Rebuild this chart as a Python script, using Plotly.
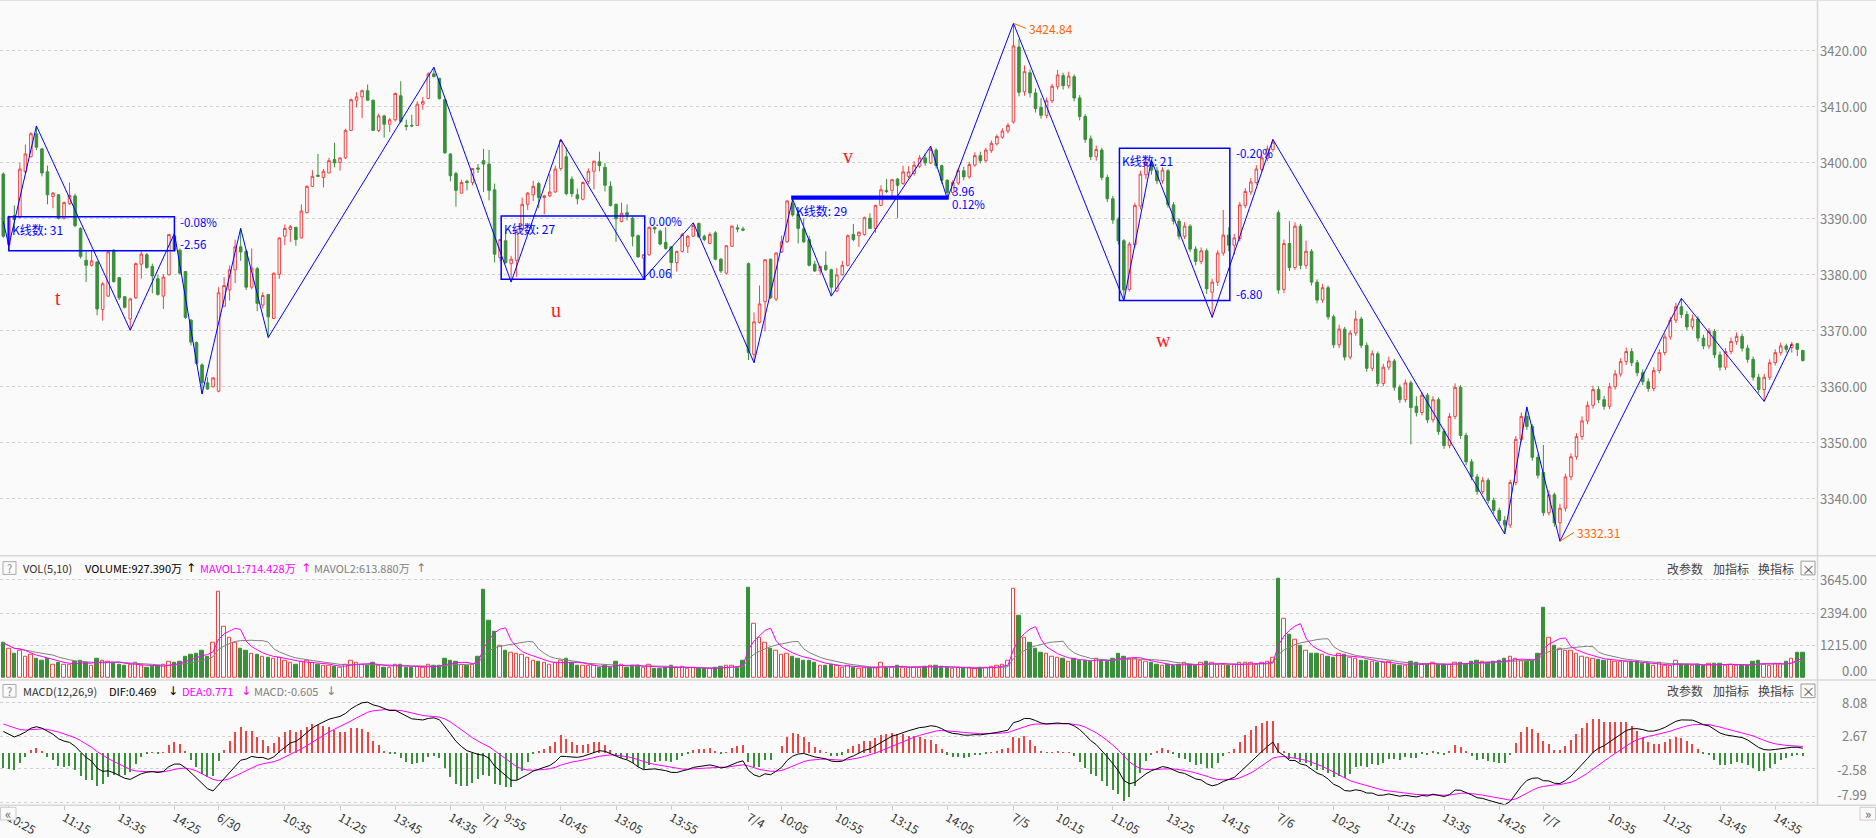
import plotly.graph_objects as go

W, H = 1876, 838
BG = "#fafafa"
RED = "#ee4444"
GREEN = "#3a903a"
BLUE = "#0000ff"

# ---------------- data: 5-minute OHLC, 6/29 10:20 .. 7/7 15:00 ----------------
opens_a = [3397.9,3385.3,3390.5,3390.3,3398.3,3401.0,3405.1,3402.4,3398.3,3393.9,3394.2,3390.0,3392.6,3394.0,3388.2,3382.5,3381.6,3382.2,3373.7,3376.1,
 3384.3,3379.4,3376.0,3372.0,3375.8,3381.8,3383.5,3381.4,3379.2,3376.1,3379.9,3386.8,3384.3,3380.5,3371.8,3367.8,3363.8,3360.6,3359.9,3359.1,
 3374.3,3377.2,3380.8,3384.9,3384.1,3377.7,3381.0,3374.5,3376.4,3372.1,3380.0,3386.8,3388.0,3388.4,3386.5,3391.0,3395.7,3397.7,3397.3,3398.1,
 3400.5,3400.0,3400.8,3405.7,3411.1,3411.7,3412.8,3411.1,3405.7,3408.3,3406.8,3407.6,3411.9,3406.6,3406.6,3406.6,3410.4,3411.4,3415.8,3415.0,
 3411.2,3401.5,3398.0,3394.5,3396.6,3396.4,3399.0,3400.3,3399.7,3395.1,3383.0,3386.0,3381.9,3382.5,3388.0,3392.5,3394.2,3396.2,3393.7,3394.0,
 3394.7,3398.9,3401.0,3397.0,3394.2,3393.4,3396.6,3398.4,3400.1,3399.1,3395.7,3392.5,3389.4,3391.0,3390.0,3386.9,3382.9,3383.5,3388.4,3387.7,
 3385.7,3384.9,3382.1,3384.1,3385.0,3386.8,3389.1,3386.8,3385.5,3387.4,3382.7,3380.2,3385.0,3388.3,3388.1,3381.9,3365.7,3371.4,3375.1,3382.7,
 3375.6,3384.0,3385.8,3392.6,3390.7,3388.1,3386.2,3381.8,3380.6,3381.6,3380.8,3377.0,3379.9,3381.6,3387.1,3386.9,3387.1,3390.0,3388.2,3392.3,
 3395.0,3395.0,3397.0,3396.2,3397.5]
opens_b = [3398.0,3399.3,3400.8,3399.9,3402.2,3399.4,3396.8,3394.6,3396.3,3398.5,3397.4,3399.5,3401.2,3400.3,3402.1,3403.3,3404.5,3405.6,
 3407.2,3420.6,3412.6,3416.0,3412.4,3409.8,3408.4,3411.0,3413.5,3415.5,3413.7,3415.3,3411.5,3408.2,3404.2,3401.0,3402.2,3397.3,3393.5,3389.8,
 3386.0,3377.3,3385.3,3392.2,3397.8,3399.9,3398.5,3396.7,3398.5,3392.4,3389.5,3386.8,3388.6,3384.5,3382.3,3384.2,3376.8,3378.6,3383.8,3387.0,
 3385.2,3386.4,3392.3,3394.7,3396.4,3398.7,3400.7,3402.3,
 3391.0,3377.3,3385.5,3381.2,3388.6,3381.6,3384.1,3378.6,3375.4,3377.6,3372.4,3367.4,3370.2,3365.2,3369.5,3372.0,3367.3,3363.2,3365.8,3360.5,
 3363.4,3364.5,3359.8,3357.6,3360.6,3356.4,3355.3,3358.4,3354.0,3357.6,3351.9,3349.4,3354.6,3359.8,3351.2,3346.5,3343.8,3341.2,3343.2,3339.6,
 3337.8,3336.0,3335.2,3342.8,3350.5,3354.6,3352.8,3347.3,
 3344.6,3337.4,3340.6,3335.6,3338.2,3343.8,3347.4,3351.0,3353.8,3356.6,3359.4,3357.6,3356.4,3359.9,3362.2,3364.4,3366.2,3364.2,3362.4,3360.8,
 3359.6,3362.8,3366.0,3368.8,3371.8,3374.2,3372.8,3370.6,3372.0,3368.6,3367.2,3369.8,3365.6,3363.4,3366.2,3368.0,3368.9,3366.8,3364.8,3361.6,
 3359.4,3361.6,3364.2,3366.0,3367.2,3366.9,3367.6,3366.4]
highs_a = [3398.2,3390.5,3392.3,3399.9,3403.2,3405.4,3406.5,3402.6,3399.4,3394.7,3394.3,3393.0,3396.4,3394.4,3388.4,3384.1,3384.3,3382.3,3378.6,3384.2,
 3384.5,3379.4,3376.0,3375.8,3382.1,3384.1,3383.8,3381.9,3379.9,3380.0,3387.2,3387.4,3384.6,3380.5,3372.0,3368.0,3364.1,3361.6,3361.6,3377.7,
 3379.5,3381.6,3386.2,3388.2,3384.4,3384.6,3381.3,3376.8,3376.4,3380.3,3386.6,3388.9,3388.8,3388.4,3392.5,3395.9,3398.6,3401.5,3398.8,3400.8,
 3403.5,3400.8,3406.0,3411.4,3412.5,3413.0,3413.9,3411.2,3408.7,3408.5,3407.9,3412.5,3414.5,3407.6,3408.5,3410.9,3411.7,3416.1,3417.0,3415.1,
 3411.4,3401.6,3398.3,3396.9,3396.9,3398.9,3399.7,3402.4,3402.2,3396.2,3386.2,3387.7,3383.3,3388.0,3393.7,3394.7,3396.7,3396.5,3394.2,3397.9,
 3399.4,3404.1,3402.7,3397.5,3395.3,3396.6,3398.9,3400.3,3401.9,3399.9,3396.6,3392.6,3392.8,3392.5,3390.3,3387.1,3383.6,3388.5,3388.5,3388.0,
 3388.4,3385.0,3384.2,3387.4,3387.0,3389.2,3389.2,3387.1,3387.5,3387.7,3382.9,3385.2,3388.7,3388.9,3388.5,3382.1,3373.2,3378.0,3382.7,3382.8,
 3383.9,3386.9,3393.2,3393.4,3390.9,3390.0,3386.9,3382.4,3381.5,3384.1,3381.0,3381.1,3382.4,3387.1,3389.0,3387.7,3390.3,3390.9,3392.4,3395.9,
 3397.0,3397.0,3397.2,3399.4,3399.3]
highs_b = [3400.2,3401.3,3401.6,3402.9,3402.5,3399.6,3397.0,3396.8,3398.9,3399.2,3400.1,3401.8,3401.9,3402.6,3403.9,3405.0,3406.1,3407.0,
 3424.84,3422.0,3417.3,3416.6,3413.2,3411.5,3411.6,3414.0,3416.5,3416.0,3416.2,3415.7,3412.0,3408.6,3404.8,3403.0,3402.6,3397.8,3394.0,3390.2,
 3386.3,3385.8,3392.8,3398.5,3400.4,3400.4,3399.2,3399.1,3398.8,3392.9,3390.0,3389.3,3388.9,3385.0,3384.8,3384.6,3379.2,3384.3,3391.5,3388.4,
 3387.2,3392.9,3395.4,3397.2,3399.5,3401.4,3403.0,3404.1,
 3391.4,3386.2,3389.5,3389.3,3389.0,3386.0,3384.5,3379.1,3378.3,3378.0,3372.8,3371.0,3370.6,3370.0,3373.5,3372.4,3367.8,3366.4,3366.2,3364.0,
 3365.3,3364.9,3360.3,3361.2,3361.0,3358.2,3359.0,3358.8,3358.2,3358.0,3352.4,3355.2,3360.5,3360.2,3351.7,3347.0,3344.3,3343.8,3343.6,3340.1,
 3338.3,3336.8,3343.3,3351.1,3355.3,3356.3,3353.2,3347.8,
 3349.5,3341.4,3341.0,3339.0,3344.4,3348.0,3351.6,3354.6,3357.3,3360.1,3360.0,3358.3,3360.6,3362.9,3365.0,3366.9,3366.8,3364.7,3363.0,3361.4,
 3363.4,3366.6,3369.4,3372.4,3374.9,3375.7,3373.4,3372.8,3372.5,3369.2,3370.4,3370.2,3366.2,3366.8,3368.7,3369.6,3369.4,3367.4,3365.3,3362.2,
 3362.2,3364.8,3366.6,3367.8,3367.6,3367.9,3367.7,3366.5]
lows_a = [3386.5,3384.3,3388.0,3390.0,3398.1,3400.9,3402.2,3397.5,3392.5,3391.8,3389.8,3389.8,3392.4,3388.4,3382.8,3378.6,3381.4,3372.7,3371.7,3376.0,
 3378.5,3375.4,3373.9,3370.0,3375.6,3379.2,3381.0,3376.6,3376.2,3373.8,3379.8,3384.1,3379.9,3372.0,3367.3,3363.8,3358.6,3359.4,3359.8,3358.9,
 3374.2,3375.3,3378.4,3382.4,3377.2,3377.3,3373.4,3373.9,3368.7,3372.0,3379.2,3385.2,3385.8,3385.1,3386.4,3390.9,3395.6,3397.5,3395.5,3398.1,
 3399.1,3398.5,3400.6,3405.6,3409.8,3407.9,3411.1,3405.6,3405.4,3404.4,3405.4,3407.3,3407.0,3405.7,3406.3,3406.5,3409.4,3411.3,3415.2,3411.2,
 3401.5,3396.6,3392.1,3394.4,3395.0,3395.9,3398.1,3394.7,3393.2,3382.1,3382.3,3381.9,3379.1,3379.5,3387.9,3391.5,3393.1,3391.8,3390.7,3393.8,
 3394.6,3398.5,3394.1,3393.8,3392.5,3393.2,3396.1,3395.2,3398.4,3394.8,3392.1,3385.8,3389.3,3389.6,3385.0,3383.0,3379.2,3383.3,3387.3,3385.2,
 3384.4,3379.2,3380.5,3383.9,3383.8,3386.7,3386.5,3385.9,3385.4,3382.5,3380.2,3380.0,3384.9,3387.5,3387.7,3364.7,3364.2,3371.2,3369.8,3375.6,
 3375.2,3383.8,3385.6,3390.3,3385.5,3385.6,3381.4,3380.4,3379.9,3380.6,3376.1,3376.8,3379.8,3381.4,3385.9,3384.9,3386.9,3388.1,3387.4,3392.2,
 3394.5,3393.9,3390.0,3396.0,3397.2]
lows_b = [3397.6,3399.0,3399.4,3399.7,3398.9,3396.2,3393.5,3394.2,3395.9,3396.8,3397.1,3399.2,3399.8,3400.0,3401.7,3403.0,3404.2,3405.2,
 3406.9,3411.8,3411.9,3411.6,3408.9,3407.8,3407.9,3410.6,3413.0,3413.0,3413.2,3410.9,3407.5,3403.5,3400.4,3400.3,3396.8,3392.9,3389.0,3385.3,
 3375.3,3376.9,3384.8,3391.6,3397.0,3397.8,3396.1,3396.2,3391.9,3388.9,3386.2,3386.3,3384.0,3381.6,3381.8,3376.5,3372.3,3377.9,3383.3,3384.1,
 3383.5,3385.9,3391.8,3394.2,3396.0,3398.3,3400.2,3401.9,
 3376.5,3376.6,3380.6,3380.8,3380.9,3381.0,3378.0,3374.8,3374.9,3371.9,3366.8,3366.8,3364.6,3364.8,3369.0,3366.8,3362.6,3362.7,3359.9,3360.0,
 3362.9,3359.2,3357.0,3357.1,3349.6,3354.6,3354.8,3353.4,3353.5,3351.3,3348.8,3348.9,3354.1,3350.6,3345.9,3343.2,3340.6,3340.7,3339.0,3337.2,
 3335.4,3333.6,3334.7,3342.3,3350.0,3352.2,3346.7,3343.5,
 3336.8,3336.9,3334.9,3332.31,3337.6,3343.2,3346.9,3350.4,3353.2,3356.0,3357.0,3355.8,3355.9,3359.4,3361.7,3363.8,3363.6,3361.8,3360.2,3359.0,
 3359.1,3362.3,3365.5,3368.3,3371.3,3372.2,3370.0,3370.1,3368.0,3366.6,3366.7,3365.0,3362.8,3362.9,3365.7,3367.4,3366.2,3364.2,3361.0,3358.8,
 3357.3,3361.1,3363.7,3365.5,3366.0,3366.0,3365.4,3364.4]
closes_a = [3386.8,3390.3,3389.8,3398.8,3401.5,3405.1,3402.7,3398.1,3394.2,3394.5,3390.0,3392.8,3394.1,3388.7,3383.2,3381.6,3382.4,3373.8,3378.3,3384.0,
 3378.7,3375.8,3374.1,3375.6,3381.9,3383.6,3381.2,3379.7,3376.4,3379.5,3387.1,3384.3,3380.2,3372.3,3367.9,3364.1,3360.6,3359.5,3361.5,3376.7,
 3378.0,3380.8,3384.9,3384.0,3377.7,3381.1,3374.8,3376.2,3372.4,3380.2,3386.5,3388.2,3388.5,3386.2,3391.3,3395.7,3397.5,3397.5,3398.4,3400.3,
 3399.9,3400.8,3405.7,3411.2,3411.7,3412.8,3411.1,3405.7,3408.3,3406.8,3407.6,3412.3,3407.3,3406.4,3406.5,3410.4,3410.9,3415.8,3415.3,3411.4,
 3401.7,3397.6,3395.0,3396.4,3396.4,3398.9,3398.8,3399.7,3395.0,3383.6,3386.2,3382.1,3382.7,3387.7,3392.5,3394.5,3395.7,3393.7,3394.0,3394.7,
 3398.8,3403.9,3394.4,3394.4,3393.5,3396.4,3398.4,3400.2,3399.4,3395.9,3392.3,3389.9,3390.9,3390.6,3386.8,3383.1,3383.5,3388.4,3388.1,3385.4,
 3384.6,3382.1,3384.1,3387.1,3386.8,3388.7,3386.7,3386.2,3387.1,3382.7,3380.6,3385.1,3388.6,3388.1,3387.9,3366.0,3371.5,3374.7,3382.6,3375.8,
 3383.8,3385.8,3393.1,3390.6,3388.2,3385.8,3381.6,3380.6,3381.4,3380.8,3377.7,3379.9,3381.6,3386.9,3386.2,3387.5,3390.1,3388.2,3392.3,3395.1,
 3394.8,3396.9,3395.9,3398.3,3398.3]
closes_b = [3399.5,3400.8,3399.9,3402.3,3399.4,3396.8,3394.6,3396.4,3398.5,3397.4,3399.6,3401.2,3400.3,3402.2,3403.4,3404.6,3405.6,3406.6,
 3420.8,3412.5,3416.2,3412.4,3409.6,3408.4,3411.0,3413.6,3415.6,3413.7,3415.4,3411.5,3408.2,3404.1,3401.0,3402.3,3397.3,3393.5,3389.7,3386.0,
 3377.2,3385.4,3392.3,3397.9,3400.0,3398.6,3396.7,3398.6,3392.4,3389.5,3386.8,3388.6,3384.5,3382.3,3384.2,3377.4,3378.6,3383.8,3387.0,3385.2,
 3386.5,3392.4,3394.8,3396.5,3398.8,3400.8,3402.4,3403.6,
 3377.2,3385.5,3381.2,3388.6,3381.6,3384.1,3378.6,3375.4,3377.6,3372.4,3367.4,3370.2,3365.2,3369.5,3372.0,3367.3,3363.2,3365.8,3360.5,3363.4,
 3364.5,3359.8,3357.6,3360.6,3356.2,3355.3,3358.4,3354.0,3357.6,3351.9,3349.4,3354.6,3359.8,3351.2,3346.5,3343.8,3341.2,3343.2,3339.6,3337.8,
 3336.0,3335.2,3342.8,3350.5,3354.6,3352.8,3347.3,3344.1,
 3337.4,3340.6,3335.6,3338.2,3343.8,3347.4,3351.0,3353.8,3356.6,3359.4,3357.6,3356.4,3359.9,3362.2,3364.4,3366.2,3364.2,3362.4,3360.8,3359.6,
 3362.8,3366.0,3368.8,3371.8,3374.2,3372.8,3370.6,3372.0,3368.6,3367.2,3369.8,3365.6,3363.4,3366.2,3368.0,3368.9,3366.8,3364.8,3361.6,3359.4,
 3361.6,3364.2,3366.0,3367.2,3366.6,3367.5,3366.6,3364.6]

vols = [1300,1100,900,1000,800,850,700,650,700,500,550,500,500,600,650,550,450,700,650,600,
 550,500,450,500,550,450,400,420,450,480,600,550,600,800,850,900,1000,800,1300,
 3170,1900,1500,1300,1100,1000,900,850,800,750,700,750,650,550,500,600,650,550,500,450,
 450,420,400,500,650,550,500,450,550,450,400,400,480,500,400,380,420,400,480,450,
 450,700,650,600,500,450,500,800,
 3250,2100,1700,1200,1000,950,900,850,750,650,600,550,500,550,650,700,550,450,450,450,
 450,400,450,400,600,500,400,450,450,400,500,350,350,380,450,400,420,350,380,350,
 330,350,400,420,450,450,400,650,
 3340,2000,1500,1300,1100,1000,850,900,800,700,650,650,550,450,450,500,450,400,450,400,
 350,380,350,400,550,400,380,450,400,380,400,380,420,450,450,420,400,350,380,350,
 380,350,400,380,420,450,480,650,
 3300,2300,1500,1300,1100,950,900,800,750,700,600,700,650,650,600,700,650,600,700,900,
 800,700,700,650,600,550,500,450,500,450,500,550,500,450,550,600,550,500,500,450,
 500,550,550,550,500,550,600,750,
 3650,2200,1600,1400,1200,1000,900,900,850,800,750,900,850,750,700,650,650,600,550,550,
 600,500,450,450,600,550,500,500,550,500,500,500,550,550,500,600,650,600,550,600,
 650,700,800,700,650,600,650,900,
 2600,1500,1200,1100,1000,1000,900,800,750,700,675,650,675,610,610,610,590,590,530,530,
 445,550,445,445,650,494,494,470,494,445,530,530,530,470,494,470,470,470,590,650,
 494,445,530,530,590,710,930,927.39]

opens = opens_a + opens_b
highs = highs_a + highs_b
lows = lows_a + lows_b
closes = closes_a + closes_b
N = len(closes)
idx = list(range(N))

# zigzag pivots (bar index, price)
zig_k = [0, 1, 6, 23, 31, 36, 43, 48, 78, 92, 101, 116, 125, 136, 143, 150, 168, 171, 183, 203, 208, 219, 230, 272, 276, 282, 304, 319, 324]
zig_p = [3389.4, 3385.1, 3406.5, 3370.0, 3387.3, 3358.6, 3388.2, 3368.7, 3417.0, 3378.6, 3404.1, 3379.2, 3389.2, 3364.2, 3393.4, 3376.1,
         3402.9, 3393.5, 3424.84, 3375.3, 3400.4, 3372.3, 3404.1, 3333.6, 3356.3, 3332.31, 3375.7, 3357.3, 3367.5]

# ---------------- helpers ----------------
X0, PXB = 3.3, 5.52
def kx(px):
    return (px - X0) / PXB
def py(ypx):
    return 3420 - (ypx - 51.5) / 5.72
def fx(px):
    return px / W
def fy(ypx):
    return 1 - ypx / H

XR = [kx(0), kx(1818)]
XD = [0, 1818 / W]

def sma(v, n):
    out = []
    for i in range(len(v)):
        s = v[max(0, i - n + 1): i + 1]
        out.append(sum(s) / len(s))
    return out
ma5 = sma(vols, 5)
ma10 = sma(vols, 10)

e12, e26, dea = 3394.0, 3389.67, 4.93
dif_l, dea_l, macd_l = [], [], []
for c in closes:
    e12 = e12 * 11 / 13 + c * 2 / 13
    e26 = e26 * 25 / 27 + c * 2 / 27
    d = e12 - e26
    dea = dea * 8 / 10 + d * 2 / 10
    dif_l.append(d); dea_l.append(dea); macd_l.append(2 * (d - dea))

up = [c >= o for o, c in zip(opens, closes)]

fig = go.Figure()
fig.add_trace(go.Candlestick(
    x=idx, open=opens, high=highs, low=lows, close=closes, xaxis="x", yaxis="y",
    increasing=dict(line=dict(color=RED, width=1), fillcolor=BG),
    decreasing=dict(line=dict(color=GREEN, width=1), fillcolor=GREEN),
    whiskerwidth=0, showlegend=False, hoverinfo="skip"))
fig.add_trace(go.Scatter(x=zig_k, y=zig_p, mode="lines", line=dict(color=BLUE, width=1),
                         xaxis="x", yaxis="y", showlegend=False, hoverinfo="skip"))

fig.add_trace(go.Bar(x=idx, y=vols, width=0.62, xaxis="x2", yaxis="y2",
                     marker=dict(color=[BG if u else GREEN for u in up],
                                 line=dict(color=[RED if u else GREEN for u in up], width=1)),
                     showlegend=False, hoverinfo="skip"))
fig.add_trace(go.Scatter(x=idx, y=ma10, mode="lines", line=dict(color="#808080", width=1),
                         xaxis="x2", yaxis="y2", showlegend=False, hoverinfo="skip"))
fig.add_trace(go.Scatter(x=idx, y=ma5, mode="lines", line=dict(color="#ff00ff", width=1),
                         xaxis="x2", yaxis="y2", showlegend=False, hoverinfo="skip"))

fig.add_trace(go.Bar(x=idx, y=macd_l, width=0.2, xaxis="x3", yaxis="y3",
                     marker=dict(color=[RED if m >= 0 else GREEN for m in macd_l], line=dict(width=0)),
                     showlegend=False, hoverinfo="skip"))
fig.add_trace(go.Scatter(x=idx, y=dea_l, mode="lines", line=dict(color="#ff00ff", width=1),
                         xaxis="x3", yaxis="y3", showlegend=False, hoverinfo="skip"))
fig.add_trace(go.Scatter(x=idx, y=dif_l, mode="lines", line=dict(color="#000000", width=1),
                         xaxis="x3", yaxis="y3", showlegend=False, hoverinfo="skip"))

# ---------------- axes ----------------
main_range = [py(566), py(0)]
vol_scale = 101 / 3645.0
vol_range = [0, (693 - 570) / vol_scale]
mac_scale = 6.347
mac_range = [8.08 - (823 - 718) / mac_scale, 8.08 + (718 - 697) / mac_scale]

tick_k = [1, 11, 21, 31, 39, 51, 61, 71, 81, 87, 91, 101, 111, 121, 135, 141, 151, 161, 171,
          183, 191, 201, 211, 221, 231, 241, 251, 261, 271, 279, 291, 301, 311, 321]
tick_t = ["10:25", "11:15", "13:35", "14:25", "6/30", "10:35", "11:25", "13:45", "14:35", "7/1", "9:55", "10:45",
          "13:05", "13:55", "7/4", "10:05", "10:55", "13:15", "14:05", "7/5", "10:15", "11:05", "13:25", "14:15",
          "7/6", "10:25", "11:15", "13:35", "14:25", "7/7", "10:35", "11:25", "13:45", "14:35"]

grid = dict(showgrid=True, gridcolor="#cfcfcf", griddash="dot", gridwidth=1, zeroline=False,
            showticklabels=False, ticks="", showline=False)
fig.update_layout(
    width=W, height=H, margin=dict(l=0, r=0, t=0, b=0), paper_bgcolor=BG, plot_bgcolor=BG,
    showlegend=False, bargap=0, boxgap=0.34,
    xaxis=dict(domain=XD, range=XR, anchor="y", showgrid=False, showticklabels=False, zeroline=False,
               rangeslider=dict(visible=False), fixedrange=True),
    xaxis2=dict(domain=XD, range=XR, anchor="y2", matches="x", showgrid=False, showticklabels=False, zeroline=False),
    xaxis3=dict(domain=XD, range=XR, anchor="y3", matches="x", showgrid=False, zeroline=False,
                tickmode="array", tickvals=tick_k, ticktext=tick_t, ticks="outside", ticklen=4,
                tickcolor="#c8c8c8", ticklabelposition="outside right",
                tickfont=dict(family="Noto Sans CJK SC", size=12, color="#333333")),
    yaxis=dict(domain=[fy(566), 1], range=main_range, tickvals=list(range(3340, 3421, 10)), **grid),
    yaxis2=dict(domain=[fy(693), fy(570)], range=vol_range, tickvals=[1215, 2394, 3645], **grid),
    yaxis3=dict(domain=[fy(823), fy(697)], range=mac_range, tickvals=[8.08, 2.67, -2.58, -7.99], **grid),
)

ann = []
shapes = []
def text(x, y, s, color="#000000", size=12, xanchor="left", family="Noto Sans CJK SC", xref="paper", yref="paper"):
    ann.append(dict(x=x, y=y, xref=xref, yref=yref, text=s, showarrow=False, xanchor=xanchor, yanchor="middle",
                    font=dict(family=family, size=size, color=color)))

# right axis labels
for v in range(3340, 3421, 10):
    ypx = 51.5 + (3420 - v) * 5.72
    text(fx(1869), fy(ypx), f"{v:.2f}", "#808080", 13, "right")
for s, ypx in [("3645.00", 592), ("2394.00", 626), ("1215.00", 659), ("0.00", 685)]:
    text(fx(1869), fy(ypx), s, "#808080", 13, "right")
for s, ypx in [("8.08", 718), ("2.67", 752), ("-2.58", 786), ("-7.99", 812)]:
    text(fx(1869), fy(ypx), s, "#808080", 13, "right")

# panel headers
HF = 11
text(fx(21), fy(580), "VOL(5,10)", "#333333", HF)
text(fx(83), fy(580), "VOLUME:927.390万", "#000000", HF)
text(fx(184), fy(580), "↑", "#000000", 12, family="DejaVu Sans")
text(fx(198), fy(580), "MAVOL1:714.428万", "#ff00ff", HF)
text(fx(299), fy(580), "↑", "#ff00ff", 12, family="DejaVu Sans")
text(fx(312), fy(580), "MAVOL2:613.880万", "#808080", HF)
text(fx(414), fy(580), "↑", "#808080", 12, family="DejaVu Sans")
text(fx(21), fy(706), "MACD(12,26,9)", "#333333", HF)
text(fx(107), fy(706), "DIF:0.469", "#000000", HF)
text(fx(166), fy(706), "↓", "#000000", 12, family="DejaVu Sans")
text(fx(180), fy(706), "DEA:0.771", "#ff00ff", HF)
text(fx(239), fy(706), "↓", "#ff00ff", 12, family="DejaVu Sans")
text(fx(252), fy(706), "MACD:-0.605", "#808080", HF)
text(fx(324), fy(706), "↓", "#808080", 12, family="DejaVu Sans")
for yc in (580.5, 706):
    text(fx(1665), fy(yc), "改参数", "#444444", 12)
    text(fx(1711), fy(yc), "加指标", "#444444", 12)
    text(fx(1756), fy(yc), "换指标", "#444444", 12)
    text(fx(1808), fy(yc), "×", "#555555", 13, "center")
    shapes.append(dict(type="rect", xref="paper", yref="paper", x0=fx(1801), x1=fx(1815), y0=fy(yc + 7), y1=fy(yc - 7),
                       line=dict(color="#999999", width=1)))
    shapes.append(dict(type="rect", xref="paper", yref="paper", x0=fx(3), x1=fx(16), y0=fy(yc + 6.5), y1=fy(yc - 6.5),
                       line=dict(color="#aaaaaa", width=1)))
    text(fx(9.5), fy(yc), "?", "#888888", 11, "center")

# nav buttons (opaque, above tick labels)
shapes.append(dict(type="rect", xref="paper", yref="paper", x0=fx(0.5), x1=fx(16), y0=fy(838), y1=fy(825),
                   line=dict(color="#cccccc", width=1), fillcolor=BG, layer="above"))
text(fx(8), fy(831), "«", "#666666", 13, "center")
shapes.append(dict(type="rect", xref="paper", yref="paper", x0=fx(1860), x1=fx(1875.5), y0=fy(838), y1=fy(825),
                   line=dict(color="#cccccc", width=1), fillcolor=BG, layer="above"))
text(fx(1868), fy(831), "»", "#666666", 13, "center")

# separators
for y0 in (568, 695, 823):
    shapes.append(dict(type="line", xref="paper", yref="paper", x0=0, x1=1, y0=fy(y0), y1=fy(y0),
                       line=dict(color="#d8d8d8", width=1.5)))
shapes.append(dict(type="line", xref="paper", yref="paper", x0=fx(1817.5), x1=fx(1817.5), y0=fy(0), y1=fy(823),
                   line=dict(color="#d8d8d8", width=1.5)))
shapes.append(dict(type="line", xref="paper", yref="paper", x0=0, x1=1, y0=fy(0.5), y1=fy(0.5),
                   line=dict(color="#e0e0e0", width=1)))

# pattern boxes (bar index range, price range)
box_k0 = [1, 90.2, 143, 202.2]
box_k1 = [31, 116.2, 171, 222.2]
box_lo = [3384.2, 3379.1, 3393.6, 3375.3]
box_hi = [3390.3, 3390.4, 3393.8, 3402.5]
box_n = [31, 27, 29, 21]
for a, b, lo, hi, n in zip(box_k0, box_k1, box_lo, box_hi, box_n):
    shapes.append(dict(type="rect", xref="x", yref="y", x0=a, x1=b, y0=lo, y1=hi,
                       line=dict(color=BLUE, width=1.5 if hi - lo > 1 else 3)))
    ann.append(dict(x=a, y=hi, xref="x", yref="y", text=f"K线数: {n}", showarrow=False, xanchor="left",
                    yanchor="top", xshift=1, yshift=-2 if hi - lo > 1 else -3,
                    font=dict(family="Noto Sans CJK SC", size=12, color=BLUE)))
labels = [(178, 227, "-0.08%"), (178, 249.7, "-2.56"), (647, 226, "0.00%"), (647, 279.3, "0.06"),
          (950, 195, "3.96"), (950, 208.5, "0.12%"), (1234, 156.7, "-0.20%"), (1234, 300.7, "-6.80")]
for xp, ypx, s in labels:
    text(fx(xp), fy(ypx), s, BLUE, 11.5)

# pattern letters
for xp, ypx, s in [(58, 305, "t"), (556, 317, "u"), (848, 159, "v"), (1163, 347, "w")]:
    text(fx(xp), fy(ypx), s, "#ff1a1a", 20, "center", family="Liberation Serif")

# extreme labels
text(fx(1027), fy(29), "3424.84", "#ff6600", 12)
text(fx(1575), fy(544), "3332.31", "#ff6600", 12)
shapes.append(dict(type="line", xref="x", yref="y", x0=183, y0=3424.84, x1=kx(1026), y1=py(29),
                   line=dict(color="#ff6600", width=1)))
shapes.append(dict(type="line", xref="x", yref="y", x0=282, y0=3332.31, x1=kx(1574), y1=py(544),
                   line=dict(color="#ff6600", width=1)))

fig.update_layout(annotations=ann, shapes=shapes)
fig.write_html("out.html")
